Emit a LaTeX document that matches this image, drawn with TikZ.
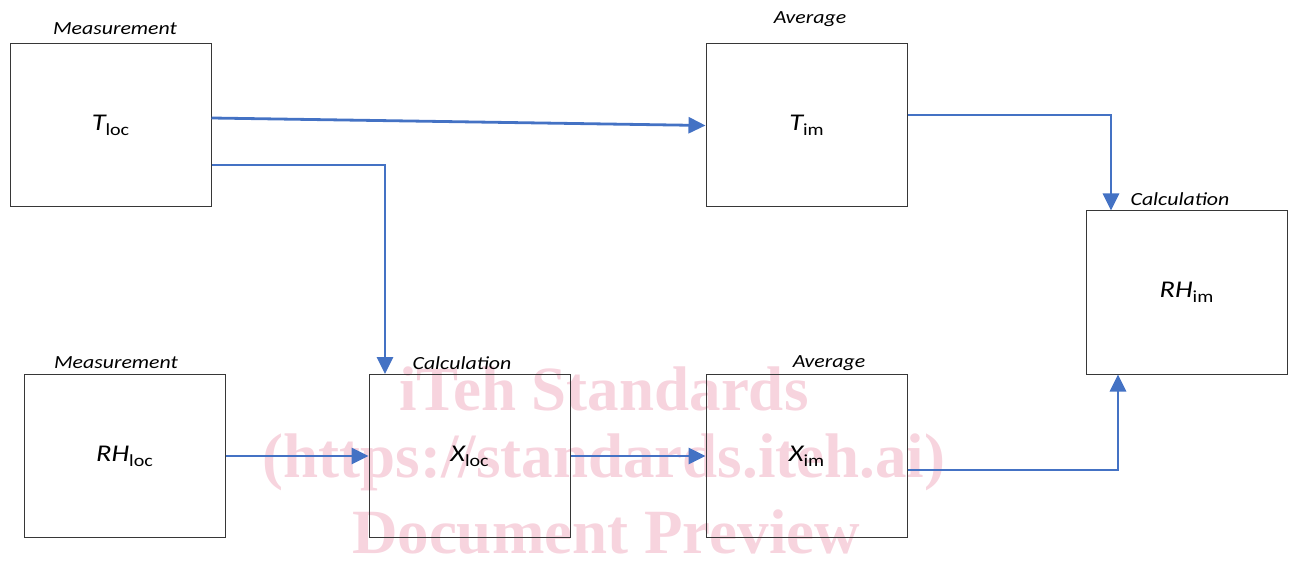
\documentclass[tikz,border=0pt]{standalone}
\usepackage{fontspec}
\setmainfont{Liberation Serif}
\newfontfamily\calfnt[FakeStretch=1.18]{Carlito}
\newfontfamily\wmfnt{Liberation Serif}
\usetikzlibrary{arrows.meta,calc}
\definecolor{arrowblue}{RGB}{68,114,196}
\definecolor{boxgray}{RGB}{55,55,55}
\definecolor{wmpink}{RGB}{247,212,222}
\newcommand{\lbl}[2]{{\fontsize{24}{28}\selectfont\calfnt\itshape #1}{\fontsize{17}{20}\selectfont\calfnt\raisebox{-5pt}{#2}}}
\tikzset{
  blk/.style={draw=boxgray, line width=1pt, minimum width=201pt, minimum height=163pt, inner sep=0pt},
  captxt/.style={font=\fontsize{18.5}{22}\selectfont\calfnt\itshape, inner sep=0pt},
  wmtext/.style={font=\fontsize{63}{70}\selectfont\wmfnt\bfseries, text=wmpink, inner sep=0pt},
  conn/.style={draw=arrowblue, line width=2.8pt, -{Triangle[length=17pt,width=16pt]}}
}
\begin{document}
\begin{tikzpicture}[x=1pt,y=-1pt]
\useasboundingbox (0,0) rectangle (1290,561);
% watermark
\node[wmtext] (w1) at (604,389) {iTeh Standards};
\node[wmtext] (w2) at (604,462) {(https://standards.iteh.ai)};
\node[wmtext] (w3) at (606,532) {Document Preview};
% boxes
\node[blk] (tloc) at (110.5,125.5) {\lbl{T}{loc}};
\node[blk] (tim) at (806.5,125.5) {\lbl{T}{im}};
\node[blk] (rhim) at (1186.5,292.5) {\lbl{RH}{im}};
\node[blk] (rhloc) at (124.5,456) {\lbl{RH}{loc}};
\node[blk] (xloc) at (469.5,456) {\lbl{X}{loc}};
\node[blk] (xim) at (806.5,456) {\lbl{X}{im}};
% captions
\node[captxt] (c1) at (115,29) {Measurement};
\node[captxt] (c2) at (810,19) {Average};
\node[captxt] (c3) at (1180,199) {Calculation};
\node[captxt] (c4) at (116,363) {Measurement};
\node[captxt] (c5) at (462,363) {Calculation};
\node[captxt] (c6) at (829,363) {Average};
% connectors
\draw[conn] ([yshift=7.5pt]tloc.east) -- (tim.west);
\draw[conn] ([yshift=-39.5pt]tloc.east) -| ([xshift=-84.5pt]xloc.north);
\draw[conn] ([yshift=10.5pt]tim.east) -| ([xshift=-75.5pt]rhim.north);
\draw[conn] (rhloc.east) -- (xloc.west);
\draw[conn] (xloc.east) -- (xim.west);
\draw[conn] ([yshift=-14pt]xim.east) -| ([xshift=-68.5pt]rhim.south);
\end{tikzpicture}
\end{document}
